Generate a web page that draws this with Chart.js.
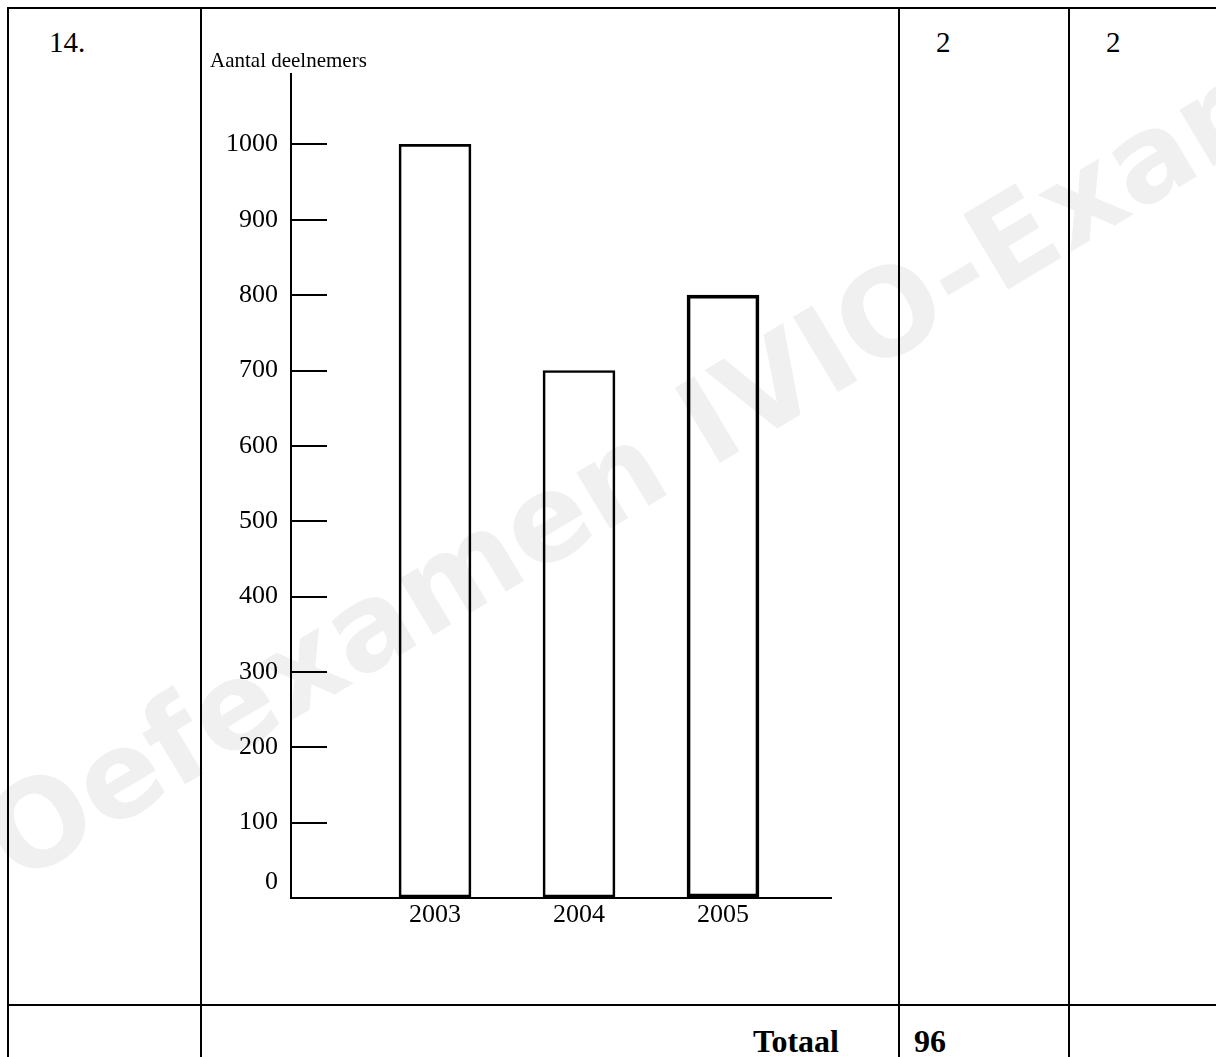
<!DOCTYPE html>
<html lang="nl">
<head>
    <meta charset="UTF-8">
    <title>Aantal deelnemers</title>
    <script src="https://cdn.jsdelivr.net/npm/chart.js"></script>
    <style>
        body {
            margin: 0;
            width: 1216px;
            height: 1057px;
            overflow: hidden;
            position: relative;
            background-color: #fff;
            font-family: "Liberation Serif", "Times New Roman", serif;
            color: #000;
        }
        .watermark {
            position: absolute;
            left: -40px;
            top: 790px;
            transform-origin: left top;
            transform: rotate(-31deg);
            font-family: "DejaVu Sans", sans-serif;
            font-weight: bold;
            font-size: 120px;
            color: #f0f0f0;
            white-space: nowrap;
            z-index: 0;
        }
        table {
            position: absolute;
            left: 7px;
            top: 7px;
            width: 1261px;
            border-collapse: collapse;
            table-layout: fixed;
            z-index: 1;
        }
        td {
            border: 2px solid #000;
            padding: 0;
            vertical-align: top;
            font-size: 29px;
        }
        .num { padding: 17px 0 0 40px; }
        .pt { padding: 17px 0 0 36px; }
        .chart-box {
            position: relative;
            width: 697px;
            height: 995px;
        }
        .total {
            text-align: right;
            padding: 17px 59px 0 0;
            font-size: 32px;
            font-weight: bold;
        }
        .total-val {
            padding: 17px 0 0 14px;
            font-size: 32px;
            font-weight: bold;
        }
    </style>
</head>
<body>
    <div class="watermark">Oefexamen IVIO-Examenbureau</div>
    <table>
        <colgroup>
            <col style="width:193px">
            <col style="width:698px">
            <col style="width:170px">
            <col style="width:200px">
        </colgroup>
        <tr style="height:997px">
            <td class="num">14.</td>
            <td><div class="chart-box"><canvas id="deelnemersChart"></canvas></div></td>
            <td class="pt">2</td>
            <td class="pt">2</td>
        </tr>
        <tr style="height:100px">
            <td></td>
            <td class="total">Totaal</td>
            <td class="total-val">96</td>
            <td></td>
        </tr>
    </table>

    <script>
        // Data
        const years = [2003, 2004, 2005];
        const deelnemers = [1000, 700, 800];
        const yTickValues = [0, 100, 200, 300, 400, 500, 600, 700, 800, 900, 1000];
        const axisTitle = 'Aantal deelnemers';

        const serif = '"Liberation Serif", "Times New Roman", serif';

        new Chart(document.getElementById('deelnemersChart'), {
            type: 'bar',
            data: {
                datasets: [{
                    label: axisTitle,
                    data: years.map((y, i) => ({ x: y, y: deelnemers[i] })),
                    backgroundColor: 'rgba(0, 0, 0, 0)',
                    borderColor: '#000',
                    borderWidth: [2, 2, 3],
                    borderSkipped: false,
                    barThickness: 72
                }]
            },
            options: {
                responsive: true,
                maintainAspectRatio: false,
                animation: false,
                layout: {
                    padding: { left: 8, top: 0, right: 68, bottom: 0 }
                },
                scales: {
                    x: {
                        type: 'linear',
                        offset: false,
                        min: 2002,
                        max: 2005.75,
                        afterBuildTicks: s => { s.ticks = years.map(v => ({ value: v })); },
                        ticks: {
                            padding: 2,
                            autoSkip: false,
                            maxRotation: 0,
                            color: '#000',
                            font: { family: serif, size: 26 },
                            callback: v => String(v)
                        },
                        grid: { display: false, drawTicks: false },
                        border: { color: '#000', width: 2 },
                        afterFit: s => { s.height = 106; }
                    },
                    y: {
                        min: 0,
                        max: 1094,
                        afterBuildTicks: s => { s.ticks = yTickValues.map(v => ({ value: v })); },
                        ticks: {
                            padding: 49,
                            autoSkip: false,
                            color: '#000',
                            font: { family: serif, size: 26 },
                            // the 0 sits a little above the x axis in the original
                            callback: v => v === 0 ? ['0', ''] : String(v)
                        },
                        grid: {
                            drawOnChartArea: false,
                            tickLength: -36,  // ticks point into the plot
                            lineWidth: 2,
                            color: ctx => (ctx.tick && ctx.tick.value > 0) ? '#000' : 'rgba(0,0,0,0)'
                        },
                        border: { color: '#000', width: 2 },
                        afterFit: s => { s.width = 81; }
                    }
                },
                plugins: {
                    legend: { display: false },
                    tooltip: { enabled: false },
                    title: {
                        display: true,
                        text: axisTitle,
                        align: 'start',
                        color: '#000',
                        font: { family: serif, size: 21, weight: 'normal' },
                        padding: { top: 32, bottom: 0 }
                    }
                }
            }
        });
    </script>
</body>
</html>
